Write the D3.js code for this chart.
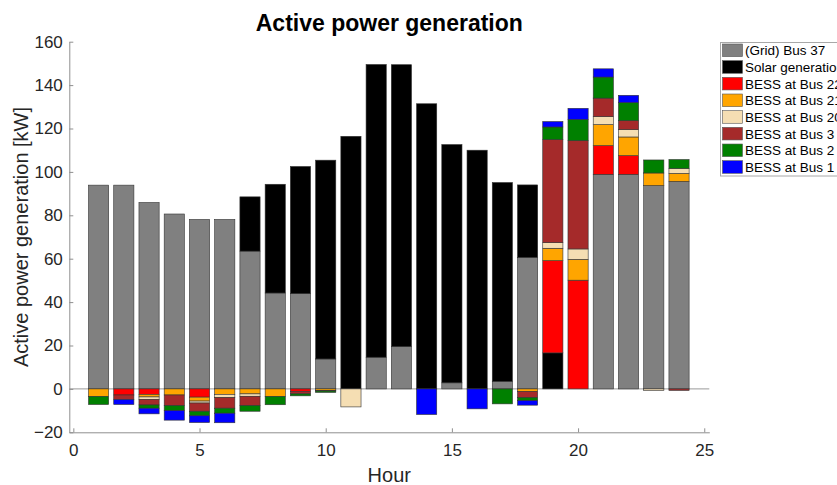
<!DOCTYPE html>
<html>
<head>
<meta charset="utf-8">
<script src="https://cdn.jsdelivr.net/npm/d3@7"></script>
<style>
  html, body { margin: 0; padding: 0; background: #fff; }
  svg { display: block; }
  text { font-family: "Liberation Sans", Arial, Helvetica, sans-serif; }
</style>
</head>
<body>
<svg id="chart" width="837" height="485"></svg>
<script>
// ---------- data ----------
const hours = [1,2,3,4,5,6,7,8,9,10,11,12,13,14,15,16,17,18,19,20,21,22,23,24];
const seriesNames = ["(Grid) Bus 37","Solar generation","BESS at Bus 22","BESS at Bus 21","BESS at Bus 20","BESS at Bus 3","BESS at Bus 2","BESS at Bus 1"];
const seriesColors = ["#808080","#000000","#ff0000","#ffa500","#f5deb3","#a52a2a","#008000","#0000ff"];
const gridBus37 = [93.9,93.9,85.9,80.6,78.1,78.1,63.5,44.2,43.9,13.8,0,14.6,19.5,0,2.8,0,3.5,60.6,0,0,98.9,98.9,93.7,95.6];
const solarGen  = [0,0,0,0,0,0,25.0,50.1,58.6,91.6,116.4,134.9,129.9,131.4,109.8,110.0,91.6,33.4,16.6,0,0,0,0,0];
const bess22 = [0,-2.8,-2.5,0,-3.8,0,0,0,-1.1,0,0,0,0,0,0,0,0,0,42.5,50.1,13.2,8.6,0,0];
const bess21 = [-3.5,0,-1.2,-2.8,-1.8,-2.5,-2.3,-3.5,0,-0.7,0,0,0,0,0,0,0,-1.2,5.7,9.6,9.7,8.6,5.8,3.7];
const bess20 = [0,0,-1.2,0,-0.9,-1.5,-1.1,0,0,0,-8.3,0,0,0,0,0,0,0,2.6,4.8,3.7,3.4,-0.7,2.3];
const bess3  = [0,-2.1,-2.5,-4.9,-3.8,-4.9,-4.3,0,-1.2,-0.3,0,0,0,0,0,0,0,-2.8,47.5,49.9,8.5,4.1,0,-0.7];
const bess2  = [-3.7,0,-1.5,-2.3,-2.1,-2.3,-2.6,-3.8,-0.9,-0.6,0,0,0,0,0,0,-6.9,-1.4,5.8,9.8,9.7,8.3,6.0,4.1];
const bess1  = [0,-2.3,-2.6,-4.4,-3.1,-4.4,0,0,0,0,0,0,0,-11.8,0,-9.2,0,-2.1,2.5,5.1,3.8,3.4,0,0];
const xTicks = [0,5,10,15,20,25];
const yTicks = [-20,0,20,40,60,80,100,120,140,160];
const titleText = "Active power generation";
const xLabel = "Hour";
const yLabel = "Active power generation [kW]";

const seriesValues = [gridBus37, solarGen, bess22, bess21, bess20, bess3, bess2, bess1];

// ---------- layout ----------
const svg = d3.select("#chart");
const x = d3.scaleLinear().domain([-0.16, 25.2]).range([69.3, 709.3]);
const y = d3.scaleLinear().domain([-20, 160]).range([432.3, 41.7]);
const barW = 0.8;

const table = hours.map((h, i) => {
  const row = { hour: h };
  seriesNames.forEach((n, k) => row[n] = seriesValues[k][i]);
  return row;
});
const stacked = d3.stack().keys(seriesNames).offset(d3.stackOffsetDiverging)(table);

// baseline
svg.append("line")
  .attr("x1", x(-0.16)).attr("x2", x(25.2))
  .attr("y1", y(0)).attr("y2", y(0))
  .attr("stroke", "#9a9a9a").attr("stroke-width", 1);

// bars
stacked.forEach((layer, k) => {
  svg.append("g")
    .selectAll("rect")
    .data(layer.filter(d => Math.abs(d[1] - d[0]) > 1e-9))
    .join("rect")
    .attr("x", d => x(d.data.hour - barW / 2))
    .attr("width", d => x(d.data.hour + barW / 2) - x(d.data.hour - barW / 2))
    .attr("y", d => y(Math.max(d[0], d[1])))
    .attr("height", d => Math.abs(y(d[0]) - y(d[1])))
    .attr("fill", seriesColors[k])
    .attr("stroke", "#333")
    .attr("stroke-width", 0.6);
});

// axes
const axisColor = "#8f8f8f";
const gx = svg.append("g").attr("transform", `translate(0,${y(-20)})`)
  .call(d3.axisBottom(x).tickValues(xTicks).tickFormat(d3.format("d"))
    .tickSizeInner(-4).tickSizeOuter(0).tickPadding(11.5));
const gy = svg.append("g").attr("transform", `translate(${x(-0.16)},0)`)
  .call(d3.axisLeft(y).tickValues(yTicks).tickFormat(d3.format("d"))
    .tickSizeInner(-4).tickSizeOuter(0).tickPadding(6.5));
[gx, gy].forEach(g => {
  g.select(".domain").attr("stroke", axisColor);
  g.selectAll(".tick line").attr("stroke", axisColor);
  g.selectAll(".tick text").attr("fill", "#262626")
    .style("font-size", "17px")
    .style("font-family", "'Liberation Sans', Arial, Helvetica, sans-serif");
});

// title & labels
svg.append("text")
  .attr("x", (x(-0.16) + x(25.2)) / 2).attr("y", 31)
  .attr("text-anchor", "middle")
  .style("font-size", "23px").style("font-weight", "bold")
  .attr("fill", "#000")
  .text(titleText);
svg.append("text")
  .attr("x", (x(-0.16) + x(25.2)) / 2).attr("y", 482)
  .attr("text-anchor", "middle")
  .style("font-size", "20px")
  .attr("fill", "#262626")
  .text(xLabel);
svg.append("text")
  .attr("transform", `translate(28,${(y(-20) + y(160)) / 2}) rotate(-90)`)
  .attr("text-anchor", "middle")
  .style("font-size", "20px")
  .attr("fill", "#262626")
  .text(yLabel);

// legend
const lg = svg.append("g");
lg.append("rect")
  .attr("x", 720.5).attr("y", 42.5).attr("width", 140).attr("height", 133.5)
  .attr("fill", "#fff").attr("stroke", "#a8a8a8").attr("stroke-width", 1);
seriesNames.forEach((n, k) => {
  const cy = 50.3 + k * 16.67;
  lg.append("rect")
    .attr("x", 722.5).attr("y", cy - 6.3).attr("width", 20).attr("height", 12.6)
    .attr("fill", seriesColors[k]).attr("stroke", "#555").attr("stroke-width", 0.6);
  lg.append("text")
    .attr("x", 745).attr("y", cy).attr("dy", "0.36em")
    .style("font-size", "13.5px").attr("fill", "#000")
    .text(n);
});
</script>
</body>
</html>
